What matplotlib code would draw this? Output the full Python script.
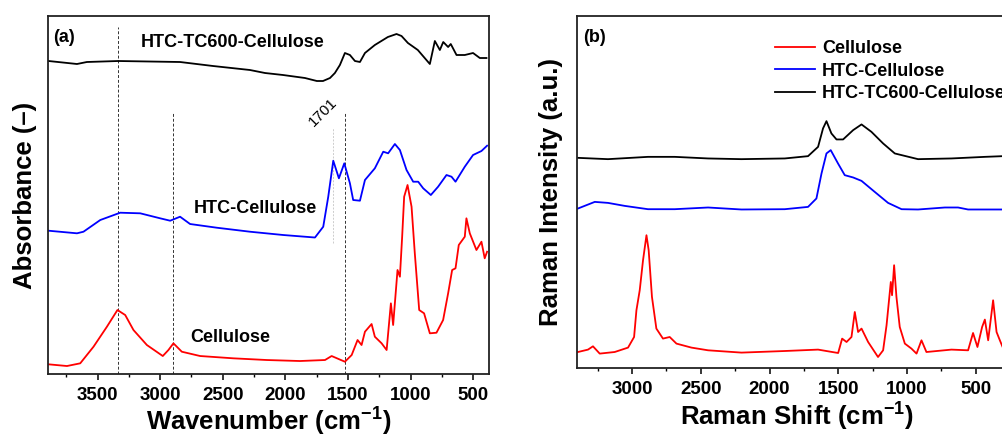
import numpy as np
import matplotlib
matplotlib.use('Agg')
import matplotlib.pyplot as plt
from matplotlib.ticker import MultipleLocator

plt.rcParams['font.family'] = ['Liberation Sans', 'DejaVu Sans']
plt.rcParams['font.weight'] = 'bold'
plt.rcParams['axes.labelweight'] = 'bold'
plt.rcParams['mathtext.fontset'] = 'custom'
plt.rcParams['mathtext.rm'] = 'Liberation Sans'
plt.rcParams['mathtext.bf'] = 'Liberation Sans:bold'
plt.rcParams['mathtext.default'] = 'bf'

# ---- (a) FTIR ----
ftir_cel_x = [3891, 3744, 3638, 3532, 3425, 3341, 3279, 3213, 3106, 2979, 2934, 2894, 2827,
              2681, 2416, 2149, 1884, 1684, 1631, 1525, 1471, 1424, 1392, 1365, 1312, 1286,
              1232, 1192, 1158, 1140, 1105, 1086, 1068, 1052, 1025, 993, 967, 932, 893, 847,
              794, 741, 701, 669, 642, 616, 568, 555, 528, 475, 435, 409, 390]
ftir_cel_y = [9.7, 8, 10.7, 27.3, 47.3, 64, 59, 44, 29, 18, 24, 30.7, 22.3,
              18, 15.7, 14, 13, 14, 18, 12.3, 19, 34, 29, 42.3, 50, 37.3,
              30.7, 24, 70.7, 49, 104, 97.3, 137.3, 177.3, 189, 167.3, 120.7, 64, 60.7, 40.7,
              41.3, 54, 80.7, 104, 105.7, 129, 137.3, 155.7, 140.7, 124, 132.3, 115.7, 122.3]

ftir_htc_x = [3891, 3664, 3612, 3478, 3319, 3159, 3000, 2920, 2841, 2761, 2548, 2283, 2017,
              1764, 1698, 1658, 1618, 1573, 1530, 1485, 1459, 1405, 1365, 1286, 1219, 1180,
              1126, 1086, 1033, 980, 940, 900, 839, 781, 714, 674, 642, 568, 502, 435, 390]
ftir_htc_y = [143.3, 140.7, 142.3, 154, 161.3, 160.7, 155.7, 153.3, 157.3, 150, 146.3, 142.3, 139,
              136.5, 147.3, 177.3, 213.3, 195.7, 210.7, 190.7, 174, 173.3, 194, 205.7, 222.3, 220.7,
              230, 224, 204, 192.3, 192.3, 185.7, 179, 187.3, 199, 197.3, 192.3, 207.3, 219, 223, 228.3]

ftir_tc_x = [3891, 3664, 3585, 3335, 2841, 2578, 2283, 2163, 2019, 1844, 1749, 1700, 1644,
             1605, 1565, 1525, 1485, 1445, 1405, 1365, 1286, 1182, 1113, 1073, 1022, 943,
             847, 807, 767, 740, 701, 680, 634, 568, 502, 448, 395]
ftir_tc_y = [313, 310, 312, 313, 312, 308, 304, 301, 299, 296, 293, 293, 296,
             301, 309, 321, 319, 313, 312, 321, 329, 337, 340, 338, 331, 324,
             310, 333, 324, 332, 327, 330, 319, 319, 321, 316, 316]

# marker lines in (a): position, top of the line
mark_x = [3335, 2894, 1525]
mark_top = [347, 261, 261]
mark_1701_x = 1618
mark_1701_span = (131, 246)

# ---- (b) Raman ----
ram_cel_x = [3393, 3320, 3284, 3235, 3126, 3029, 2985, 2968, 2944, 2920, 2895, 2879, 2855,
             2823, 2775, 2726, 2677, 2568, 2447, 2204, 1889, 1647, 1501, 1472, 1440, 1404,
             1380, 1356, 1331, 1283, 1211, 1174, 1149, 1118, 1109, 1094, 1077, 1053, 1016,
             968, 931, 895, 859, 677, 556, 520, 488, 454, 434, 410, 374, 349, 325, 303]
ram_cel_y = [16.3, 18.7, 22, 14.7, 16.3, 20.7, 31.3, 58, 78, 108, 133, 118, 71.3,
             39.7, 29.7, 31.3, 24.7, 20.7, 18, 15.7, 17.3, 18.7, 15.3, 29.7, 26.3, 31.3,
             56.3, 36.3, 39.7, 26.3, 11.3, 18, 43, 86.3, 73, 103, 71.3, 41.3, 24.7,
             19.7, 14.7, 28, 16.3, 18.7, 18, 35.3, 21.3, 41.3, 48.7, 28, 68, 36.3, 28, 20.7]

ram_htc_x = [3393, 3271, 3175, 3053, 2884, 2689, 2447, 2204, 1889, 1720, 1659, 1622, 1586,
             1555, 1502, 1453, 1392, 1331, 1235, 1138, 1040, 920, 725, 629, 556, 303]
ram_htc_y = [159.7, 166.3, 165.3, 162.3, 159, 159, 160.7, 158.7, 159, 161.3, 169.7, 194.7, 214.7,
             218, 204.7, 193, 190.7, 187.3, 176.3, 165.3, 159, 158.7, 160.7, 160.7, 158.7, 158.7]

ram_tc_x = [3393, 3175, 2884, 2689, 2447, 2204, 1889, 1720, 1647, 1611, 1586, 1550, 1513,
            1465, 1392, 1331, 1259, 1174, 1089, 920, 677, 434, 303]
ram_tc_y = [210.3, 209, 211.3, 211.3, 209.7, 209, 209.7, 212, 221.3, 239.7, 247, 234.7, 228.7,
            228.7, 238, 243.7, 236.3, 224.7, 214.7, 209, 209.7, 211.3, 212]

RED, BLUE, BLACK = '#ff0000', '#0000ff', '#000000'

fig = plt.figure(figsize=(10.03, 4.42), dpi=100)
ax1 = fig.add_axes([0.0479, 0.1538, 0.4396, 0.81])
ax2 = fig.add_axes([0.5753, 0.1667, 0.4387, 0.797])

for ax in (ax1, ax2):
    for s in ax.spines.values():
        s.set_linewidth(1.3)
        s.set_color('#222222')
    ax.set_yticks([])
    ax.xaxis.set_major_locator(MultipleLocator(500))
    ax.xaxis.set_minor_locator(MultipleLocator(250))
    ax.tick_params(axis='x', which='major', direction='out', length=4, width=1.1, labelsize=13.5, pad=5)
    ax.tick_params(axis='x', which='minor', direction='out', length=2.5, width=1.0)

# (a)
for xm, ym in zip(mark_x, mark_top):
    ax1.plot([xm, xm], [0, ym], ls=(0, (3, 2)), color='#333333', lw=0.7)
ax1.plot([mark_1701_x, mark_1701_x], mark_1701_span, ls=(0, (2, 1.5)), color='#cccccc', lw=0.7)
ax1.plot(ftir_cel_x, ftir_cel_y, color=RED, lw=1.3)
ax1.plot(ftir_htc_x, ftir_htc_y, color=BLUE, lw=1.3)
ax1.plot(ftir_tc_x, ftir_tc_y, color=BLACK, lw=1.3)
ax1.set_xlim(3895, 375)
ax1.set_ylim(0, 358)
ax1.text(0.012, 0.94, '(a)', transform=ax1.transAxes, fontsize=13, va='center', ha='left')
ax1.text(2418, 332, 'HTC-TC600-Cellulose', fontsize=13, ha='center', va='center')
ax1.text(2243, 166, 'HTC-Cellulose', fontsize=13, ha='center', va='center')
ax1.text(2442, 37, 'Cellulose', fontsize=13, ha='center', va='center')
ax1.text(1700, 262, '1701', fontsize=11, fontweight='normal', rotation=45, ha='center', va='center')
ax1.set_xlabel('Wavenumber (cm$^{-1}$)', fontsize=18.5, labelpad=2)
ax1.set_ylabel('Absorbance (–)', fontsize=18.5, labelpad=8)

# (b)
ax2.plot(ram_cel_x, ram_cel_y, color=RED, lw=1.3, label='Cellulose')
ax2.plot(ram_htc_x, ram_htc_y, color=BLUE, lw=1.3, label='HTC-Cellulose')
ax2.plot(ram_tc_x, ram_tc_y, color=BLACK, lw=1.3, label='HTC-TC600-Cellulose')
ax2.set_xlim(3400, 200)
ax2.set_ylim(0, 352)
ax2.text(0.014, 0.94, '(b)', transform=ax2.transAxes, fontsize=13, va='center', ha='left')
ax2.legend(loc='upper left', bbox_to_anchor=(0.43, 0.957), frameon=False, fontsize=13,
           borderpad=0, handlelength=2.2, handletextpad=0.4, labelspacing=0.3)
ax2.set_xlabel('Raman Shift (cm$^{-1}$)', fontsize=18.5, labelpad=2)
ax2.set_ylabel('Raman Intensity (a.u.)', fontsize=18.5, labelpad=10)

fig.savefig('out.png', dpi=100)
